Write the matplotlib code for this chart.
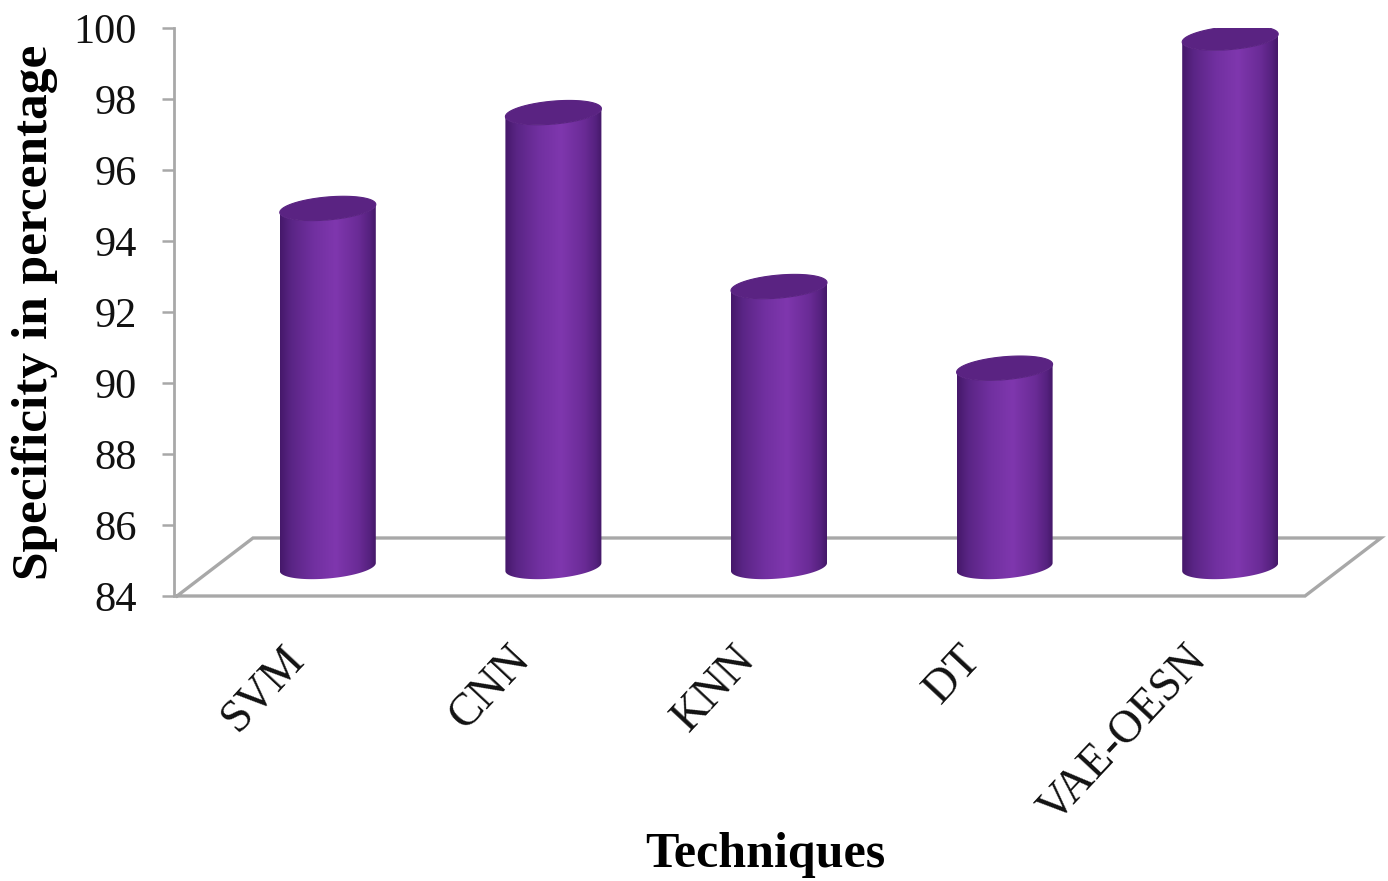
import numpy as np
import matplotlib
matplotlib.use("Agg")
import matplotlib.pyplot as plt
from matplotlib.colors import LinearSegmentedColormap
from matplotlib.patches import Polygon
import matplotlib.transforms as mtransforms

# ---- data ----
techniques = ["SVM", "CNN", "KNN", "DT", "VAE-OESN"]
specificity = [94.1, 96.8, 91.9, 89.6, 98.9]
y_ticks = [84, 86, 88, 90, 92, 94, 96, 98, 100]

plt.rcParams["font.family"] = ["Liberation Serif", "DejaVu Serif"]

W, H, DPI = 1388, 881, 100
fig = plt.figure(figsize=(W / DPI, H / DPI), dpi=DPI)
ax_left, ax_bottom, ax_w, ax_h = 177, 285, 1128, 568
ax = fig.add_axes([ax_left / W, ax_bottom / H, ax_w / W, ax_h / H])

x_min, x_max = -0.5, len(techniques) - 0.5
y_min, y_max = y_ticks[0], y_ticks[-1]

# pixels per data unit along each axis
px_x = ax_w / (x_max - x_min)
px_y = ax_h / (y_max - y_min)

# oblique depth of the 3-D floor (pixels -> data units)
DX = 76 / px_x
DY = 58 / px_y

# floor outline
floor_color = "#a8a8a8"
fx = [x_min, x_max, x_max + DX, x_min + DX, x_min]
fy = [y_min, y_min, y_min + DY, y_min + DY, y_min]
ax.plot(fx, fy, color=floor_color, lw=2.4, clip_on=False, zorder=1,
        solid_joinstyle="miter")

# cylinder geometry
a = 48 / px_x          # radius (x)
b = 11.5 / px_y        # ellipse half-height (y)
k = 4 / px_y           # perspective skew of the ellipses

cmap = LinearSegmentedColormap.from_list(
    "cyl",
    [(0.0, "#45186a"), (0.12, "#5a2585"), (0.35, "#7130a0"),
     (0.58, "#7f37ae"), (0.82, "#6a2b96"), (0.94, "#55217e"), (1.0, "#441868")])
grad = np.linspace(0, 1, 256).reshape(1, -1)

t_front = np.linspace(np.pi, 2 * np.pi, 80)
t_full = np.linspace(0, 2 * np.pi, 160)


def ell(cx, cy, t):
    return np.column_stack([cx + a * np.cos(t), cy + b * np.sin(t) + k * np.cos(t)])


for i, v in enumerate(specificity):
    cx = i + DX / 2
    base = y_min + DY / 2
    top = v + DY / 2
    top_front = ell(cx, top, t_front)
    base_front = ell(cx, base, t_front)[::-1]
    body = np.vstack([top_front, base_front])
    poly = Polygon(body, closed=True, facecolor="none", edgecolor="none",
                   transform=ax.transData)
    ax.add_patch(poly)
    im = ax.imshow(grad, extent=[cx - a, cx + a, base - b - k, top + b + k],
                   aspect="auto", cmap=cmap, interpolation="bilinear",
                   zorder=3, origin="lower")
    im.set_clip_path(poly)
    cap = Polygon(ell(cx, top, t_full), closed=True, facecolor="#5a2382",
                  edgecolor="#5a2382", lw=0.8, zorder=4)
    ax.add_patch(cap)

ax.set_xlim(x_min, x_max)
ax.set_ylim(y_min, y_max)

for side in ("top", "right", "bottom"):
    ax.spines[side].set_visible(False)
ax.spines["left"].set_color(floor_color)
ax.spines["left"].set_linewidth(2.0)
ax.spines["left"].set_position(("outward", 2))

ax.set_yticks(y_ticks)
ax.tick_params(axis="y", direction="out", length=9, width=1.8, color=floor_color,
               pad=18, labelsize=30.5, labelcolor="#111111")

ax.set_xticks(range(len(techniques)))
ax.set_xticklabels(techniques, rotation=47, ha="right", va="top",
                   rotation_mode="anchor", fontsize=33, color="#111111")
ax.tick_params(axis="x", length=0, pad=30)
shift = mtransforms.ScaledTranslation(-8 / DPI, 0, fig.dpi_scale_trans)
for lab in ax.get_xticklabels():
    lab.set_transform(lab.get_transform() + shift)

ax.set_ylabel("Specificity in percentage", fontsize=37, fontweight="bold",
              va="center")
ax.yaxis.set_label_coords((35 - ax_left) / ax_w, 0.5)
ax.set_xlabel("Techniques", fontsize=36, fontweight="bold", va="center")
ax.xaxis.set_label_coords((765 - ax_left) / ax_w, -(855 - (H - ax_bottom - ax_h) - ax_h) / ax_h)

fig.savefig("out.png", dpi=DPI)
